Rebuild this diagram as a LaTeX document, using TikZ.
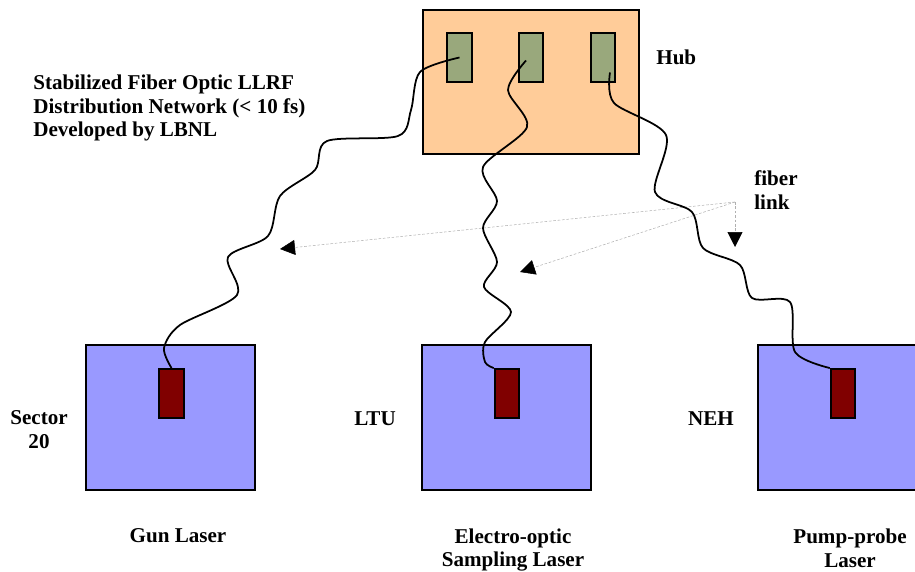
\documentclass[tikz,border=0pt]{standalone}
\usepackage{fontspec}
\setmainfont{Liberation Serif}
\usepackage{tikz}
\usetikzlibrary{
  arrows.meta, positioning
}
\usepackage{xcolor}
\definecolor{hubpeach}{HTML}{FFCC99}
\definecolor{portgreen}{HTML}{99A87C}
\definecolor{labblue}{HTML}{9999FF}
\definecolor{laserred}{HTML}{800000}
\definecolor{linkgray}{HTML}{B0B0B0}

\begin{document}
\begin{tikzpicture}[
  x=0.02cm, y=-0.02cm,
  box/.style={
    rectangle, draw=black, line width=1.1pt, fill=#1, inner sep=0pt
  },
  hubbox/.style={box=hubpeach, minimum width=4.32cm, minimum height=2.88cm},
  labbox/.style={box=labblue, minimum width=3.38cm, minimum height=2.9cm},
  port/.style={box=#1, minimum width=0.49cm, minimum height=0.98cm},
  fiber/.style={line width=1pt, black},
  link/.style={
    linkgray, line width=0.3pt, dash pattern=on 1.5pt off 1pt,
    -{Triangle[color=black, length=0.3cm, width=0.3cm]}
  },
  lbl/.style={font=\fontsize{12}{13.6}\selectfont\bfseries, align=center, inner sep=0pt}
]
  \useasboundingbox (0,0) rectangle (915,571);

  \node[hubbox] (hub) at (531,82) {};
  \node[port=portgreen] (g1) at (459.5,57.5) {};
  \node[port=portgreen] (g2) at (531,57.5) {};
  \node[port=portgreen] (g3) at (603,57.5) {};

  \node[labbox] (sector) at (170.5,417.5) {};
  \node[labbox] (ltu) at (506.5,417.5) {};
  \node[labbox] (neh) at (842.5,417.5) {};
  \node[port=laserred] (r1) at (171.5,393.5) {};
  \node[port=laserred] (r2) at (507,393.5) {};
  \node[port=laserred] (r3) at (843,393.5) {};

  \coordinate (link) at (735,202);
  \coordinate (tipA) at (280,249);
  \coordinate (tipB) at (520,272);
  \coordinate (tipC) at (735,247);
  \draw[link] (link) -- (tipA);
  \draw[link] (link) -- (tipB);
  \draw[link] (link) -- (tipC);

  \draw[fiber] plot[smooth] coordinates {(g1.center) (420,72) (411,110)
    (398,136) (327,141) (315,170) (280,196) (268,236) (228,257) (237,295)
    (180,325) (164,348) (r1.north)};
  \draw[fiber] plot[smooth] coordinates {([shift={(-5,3)}]g2.center) (508,90)
    (527,127) (483,167) (497,201) (483,228) (497,262) (484,287) (511,312)
    (485,342) (485,362) (r2.north west)};
  \draw[fiber] plot[smooth] coordinates {([shift={(7,15)}]g3.center) (614,103)
    (666,135) (655,192) (692,212) (703,248) (740,265) (752,298) (790,302)
    (795,352) (r3.north west)};

  \node[lbl, align=left, anchor=west] (title) at (33,108)
    {Stabilized Fiber Optic LLRF\\Distribution Network (< 10 fs)\\Developed by LBNL};
  \node[lbl, anchor=west] (hublbl) at (656,57) {Hub};
  \node[lbl, align=left, anchor=west] (linklbl) at (754,190) {fiber\\link};

  \node[lbl] (sectorlbl) at (39,430) {Sector\\20};
  \node[lbl] (ltulbl) at (375,418.5) {LTU};
  \node[lbl] (nehlbl) at (711,418.5) {NEH};

  \node[lbl] (gunlbl) at (178,536) {Gun Laser};
  \node[lbl] (eoslbl) at (513,550) {Electro-optic\\Sampling Laser};
  \node[lbl] (pplbl) at (850,548) {Pump-probe\\Laser};
\end{tikzpicture}
\end{document}
